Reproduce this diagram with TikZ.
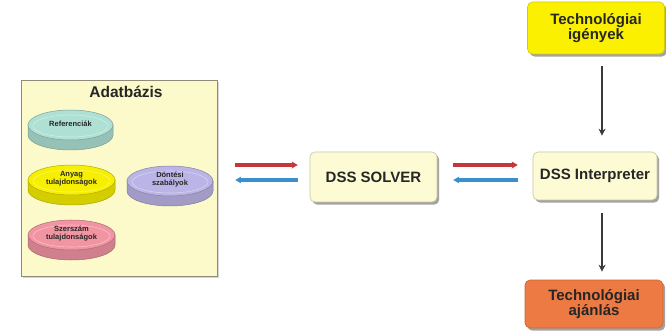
\documentclass[tikz,border=0pt]{standalone}
\usepackage{fontspec}
\setmainfont{Liberation Sans}
\usetikzlibrary{arrows.meta,shadows,calc}

\definecolor{dbfill}{HTML}{FCF9CB}
\definecolor{dbline}{HTML}{8E8C78}
\definecolor{boxfill}{HTML}{FCFBD3}
\definecolor{boxline}{HTML}{C9C6A2}
\definecolor{needyellow}{HTML}{FAF000}
\definecolor{advorange}{HTML}{EC7A42}
\definecolor{reftl}{HTML}{AEE0D4}
\definecolor{matyl}{HTML}{F7EF00}
\definecolor{toolpk}{HTML}{F195A3}
\definecolor{rulelv}{HTML}{BBB4E6}
\definecolor{fwdred}{HTML}{C4373A}
\definecolor{backblue}{HTML}{3A90CC}
\definecolor{flowgray}{HTML}{3A3A3A}

\tikzset{
  mainbox/.style={draw=boxline, line width=0.6pt, fill=boxfill, rounded corners=5pt,
    font=\bfseries\fontsize{15}{14}\selectfont, text=black!85, align=center,
    drop shadow={shadow xshift=2.2pt, shadow yshift=-2.6pt, fill=black!60, opacity=0.6}},
  dbbox/.style={draw=dbline, line width=1.6pt, fill=dbfill,
    drop shadow={shadow xshift=1.5pt, shadow yshift=-1.5pt, fill=black!40, opacity=0.4}},
  disktext/.style={font=\bfseries\fontsize{7.5}{8}\selectfont, text=black!85, align=center},
  fwd/.style={draw=fwdred, line width=3.2pt, -{Stealth[length=6pt,width=7pt]}},
  back/.style={draw=backblue, line width=3.2pt, -{Stealth[length=6pt,width=7pt]}},
  flow/.style={draw=flowgray, line width=2pt, -{Stealth[length=7pt,width=7pt]}}
}

% flat database disk: name, centre x, centre y (from top), x radius, colour, label
\newcommand\dbdisk[6]{%
  \pgfmathsetmacro\diskY{332-#3}
  \pgfmathsetmacro\diskIR{#4-5}
  \path[fill=#5!86!black, draw=#5!70!black, line width=0.5pt]
    ({#2-#4},\diskY+5) -- ({#2-#4},\diskY-5)
    arc[start angle=180, end angle=360, x radius=#4pt, y radius=15pt]
    -- ({#2+#4},\diskY+5) -- cycle;
  \path[fill=#5, draw=#5!72!black, line width=0.5pt]
    (#2,\diskY+5) ellipse[x radius=#4pt, y radius=15pt];
  \path[draw=#5!60!white, line width=0.6pt]
    (#2,\diskY+4) ellipse[x radius=\diskIR pt, y radius=11pt];
  \node[disktext] (#1) at (#2,\diskY+6) {#6};
}

\begin{document}
\begin{tikzpicture}[x=1pt, y=1pt]
  \useasboundingbox[fill=white] (0,0) rectangle (666,332);

  % database frame
  \node[dbbox, minimum width=196pt, minimum height=196pt] (adat) at (119.5,153.5) {};
  \node[font=\bfseries\fontsize{15.5}{15}\selectfont, text=black!85] (adattitle) at (126,240) {Adatbázis};

  \dbdisk{ref}{70.5}{130}{42.5}{reftl}{Referenciák}
  \dbdisk{anyag}{71.5}{185}{43.5}{matyl}{Anyag\\tulajdonságok}
  \dbdisk{szersz}{71.5}{240}{43.5}{toolpk}{Szerszám\\tulajdonságok}
  \dbdisk{dontes}{170}{186}{43}{rulelv}{Döntési\\szabályok}

  % processing boxes
  \node[mainbox, minimum width=127pt, minimum height=50pt] (solver) at (373.5,155) {DSS SOLVER};
  \node[mainbox, minimum width=124pt, minimum height=48pt] (interp) at (595,156) {DSS Interpreter};
  \node[mainbox, fill=needyellow, draw=needyellow!85!black, minimum width=137pt, minimum height=52pt] (igenyek) at (596,304) {Technológiai\\igények};
  \node[mainbox, fill=advorange, draw=advorange!85!black, minimum width=138pt, minimum height=48pt] (ajanlas) at (594,28) {Technológiai\\ajánlás};

  % lanes of the paired arrows
  \coordinate (laneA) at (0,167);
  \coordinate (laneB) at (0,152);

  \draw[fwd, shorten <=17pt, shorten >=12pt] (adat.east |- laneA) -- (solver.west |- laneA);
  \draw[back, shorten <=12pt, shorten >=17pt] (solver.west |- laneB) -- (adat.east |- laneB);
  \draw[fwd, shorten <=16pt, shorten >=15pt] (solver.east |- laneA) -- (interp.west |- laneA);
  \draw[back, shorten <=15pt, shorten >=16pt] (interp.west |- laneB) -- (solver.east |- laneB);

  % vertical flow
  \coordinate (flowx) at (602,0);
  \draw[flow, shorten <=12pt, shorten >=16pt] (igenyek.south -| flowx) -- (interp.north -| flowx);
  \draw[flow, shorten <=13pt, shorten >=8pt] (interp.south -| flowx) -- (ajanlas.north -| flowx);
\end{tikzpicture}
\end{document}
